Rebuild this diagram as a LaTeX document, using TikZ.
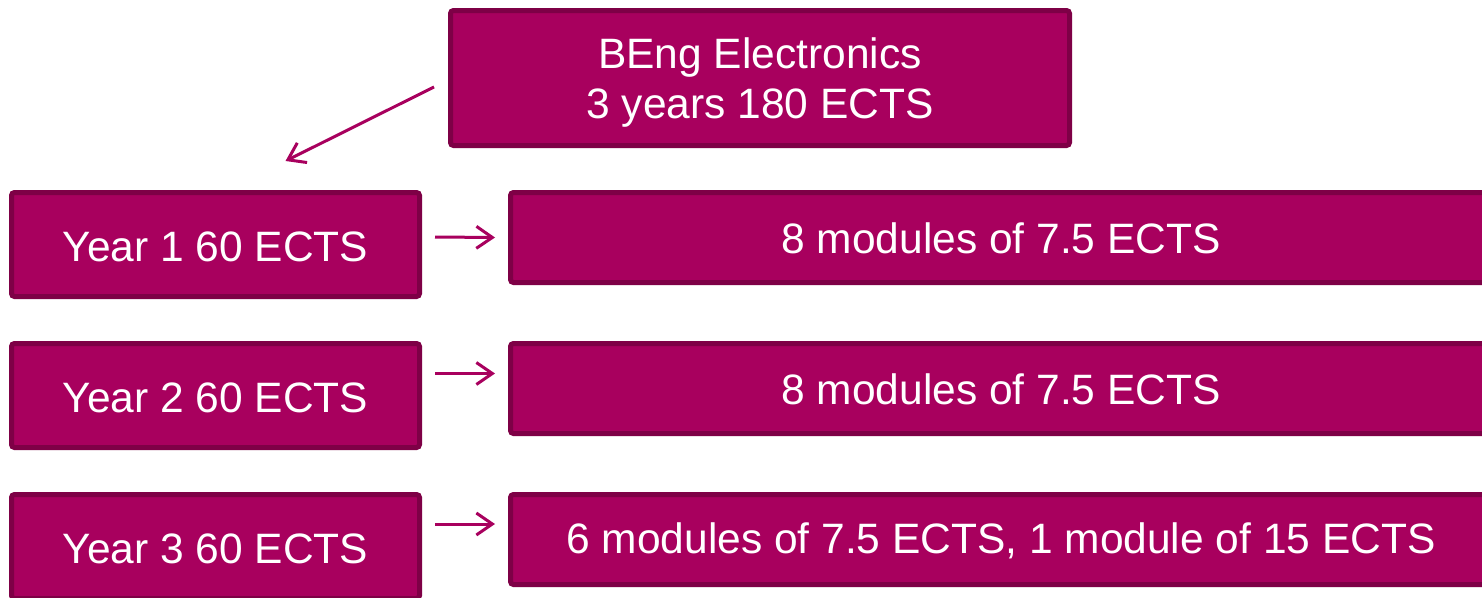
\documentclass[tikz,border=0pt]{standalone}
\usepackage{fontspec}
\setmainfont{Liberation Sans}
\usetikzlibrary{arrows.meta,calc}
\definecolor{boxfill}{HTML}{A8005E}
\definecolor{boxline}{HTML}{7E0046}
\definecolor{arrc}{HTML}{A8005E}
\newcommand{\dn}[2]{\raisebox{-#1pt}[\height][\depth]{#2}}
\tikzset{
  pinkbox/.style={draw=boxline, fill=boxfill, line width=5pt, rounded corners=3pt,
    text=white, font=\fontsize{42.5}{50}\selectfont, align=center, inner sep=0pt},
  yearbox/.style={pinkbox, minimum width=408pt, minimum height=104pt},
  modbox/.style={pinkbox, minimum width=981pt, minimum height=90pt},
  arr/.style={draw=arrc, line width=3pt, -{Straight Barb[length=16pt,width=22pt,line width=3pt]}}
}
\begin{document}
\begin{tikzpicture}[x=1pt,y=-1pt]
\clip (0,0) rectangle (1482,597);
\fill[white] (0,0) rectangle (1482,597);
\node[pinkbox, minimum width=619pt, minimum height=135pt] (top) at (760,78) {\dn{5}{\begin{tabular}{@{}c@{}}BEng Electronics\\3 years 180 ECTS\end{tabular}}};
\node[yearbox] (y1) at (215.5,244.5) {\dn{2}{Year 1 60 ECTS}};
\node[yearbox] (y2) at (215.5,395.5) {\dn{2}{Year 2 60 ECTS}};
\node[yearbox] (y3) at (215.5,546.5) {\dn{2}{Year 3 60 ECTS}};
\node[modbox] (m1) at (1001,237.5) {\dn{1}{8 modules of 7.5 ECTS}};
\node[modbox] (m2) at (1001,388.5) {\dn{1}{8 modules of 7.5 ECTS}};
\node[modbox] (m3) at (1001,539.5) {\dn{1}{6 modules of 7.5 ECTS, 1 module of 15 ECTS}};
\coordinate (d) at ($(y1.north)+(70,-29)$);
\draw[arr] ($(top.west)+(-14,9)$) -- (d);
\draw[arr] ($(y1.east)+(13,-7.5)$) -- ($(m1.west)+(-13,0)$);
\draw[arr] ($(y2.east)+(13,-22)$) -- ($(m2.west)+(-13,-15)$);
\draw[arr] ($(y3.east)+(13,-22.5)$) -- ($(m3.west)+(-13,-15.5)$);
\end{tikzpicture}
\end{document}
